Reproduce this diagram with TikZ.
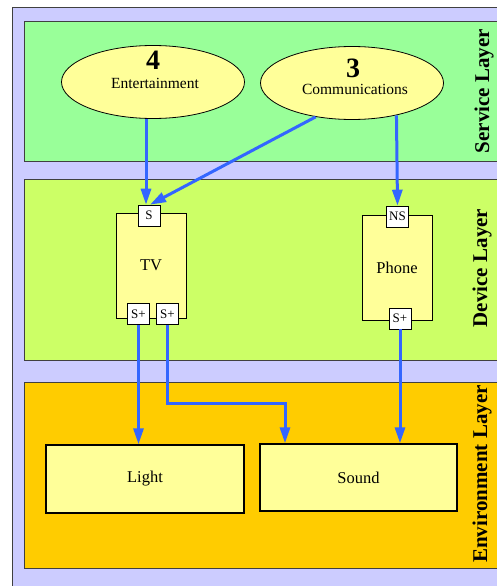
\documentclass[tikz,border=0pt]{standalone}
\usepackage{fontspec}
\setmainfont{Liberation Serif}
\usetikzlibrary{arrows.meta,shapes.geometric,calc}

\definecolor{outerbg}{RGB}{204,204,255}
\definecolor{servicebg}{RGB}{153,255,153}
\definecolor{devicebg}{RGB}{204,255,102}
\definecolor{envbg}{RGB}{255,204,0}
\definecolor{nodebg}{RGB}{255,255,153}
\definecolor{link}{RGB}{51,102,255}

\begin{document}
\begin{tikzpicture}[x=1pt,y=-1pt,
  layer/.style={draw=black!75,line width=0.8pt},
  layer label/.style={rotate=90,font=\fontsize{21}{21}\selectfont\bfseries},
  service/.style={ellipse,draw,fill=nodebg,line width=0.8pt,
    minimum width=183pt,minimum height=73pt},
  num/.style={font=\fontsize{28}{28}\selectfont\bfseries},
  srvname/.style={font=\fontsize{15.5}{15.5}\selectfont},
  device/.style={rectangle,draw,fill=nodebg,line width=0.8pt,
    minimum width=70pt,minimum height=105pt,font=\fontsize{16.5}{16.5}\selectfont},
  port/.style={rectangle,draw,fill=white,line width=0.6pt,inner sep=0pt,
    minimum width=22pt,minimum height=21pt,font=\fontsize{13}{13}\selectfont},
  thing/.style={rectangle,draw,fill=nodebg,line width=1.4pt,
    minimum width=197pt,minimum height=67pt,font=\fontsize{16.5}{16.5}\selectfont},
  link/.style={draw=link,line width=3pt,-{Triangle[length=16pt,width=10pt]},
    shorten >=0pt}]

  \useasboundingbox (0,0) rectangle (497,586);
  \clip (0,0) rectangle (497,586);

  % background and the three layers
  \fill[white] (0,0) rectangle (497,586);
  \draw[fill=outerbg,line width=0.8pt,draw=black!75] (12,7) rectangle (520,600);
  \draw[layer,fill=servicebg] (24,21) rectangle (520,161);
  \draw[layer,fill=devicebg] (24,179) rectangle (520,360);
  \draw[layer,fill=envbg] (24,382) rectangle (520,568);
  \node[layer label] (servicelbl) at (484,91) {Service Layer};
  \node[layer label] (devicelbl) at (482,268) {Device Layer};
  \node[layer label] (envlbl) at (482,474) {Environment Layer};

  % services
  \node[service] (ent) at (153,82) {};
  \node[num] (entnum) at (153,60) {4};
  \node[srvname] (entname) at (155,83) {Entertainment};
  \node[service] (com) at (352,83) {};
  \node[num] (comnum) at (353,68) {3};
  \node[srvname] (comname) at (355,89) {Communications};

  % devices with their ports
  \node[device] (tv) at (151,265.5) {TV};
  \node[port] (tvs) at (149,215.5) {S};
  \node[port] (tvout1) at (138.5,314) {S+};
  \node[port] (tvout2) at (167.5,314) {S+};
  \node[device] (phone) at (397,267.5) {Phone};
  \node[port] (phonens) at (397.5,216.5) {NS};
  \node[port] (phoneout) at (400,318.5) {S+};

  % environment
  \node[thing,minimum width=198pt,minimum height=68pt] (light) at (145,479) {Light};
  \node[thing] (sound) at (358.5,477.5) {Sound};

  % links
  \draw[link] (ent.south -| {(146,0)}) -- ([xshift=-3]tvs.north);
  \draw[link] (com.223) -- ([xshift=1]tvs.north);
  \draw[link] (com.-36) -- (phonens.north);
  \draw[link] (tvout1.south) -- (tvout1.south |- light.north);
  \draw[link] (tvout2.south) -- ++(0,79) -| ([xshift=-73.5]sound.north);
  \draw[link] (phoneout.south) -- (phoneout.south |- sound.north);
\end{tikzpicture}
\end{document}
